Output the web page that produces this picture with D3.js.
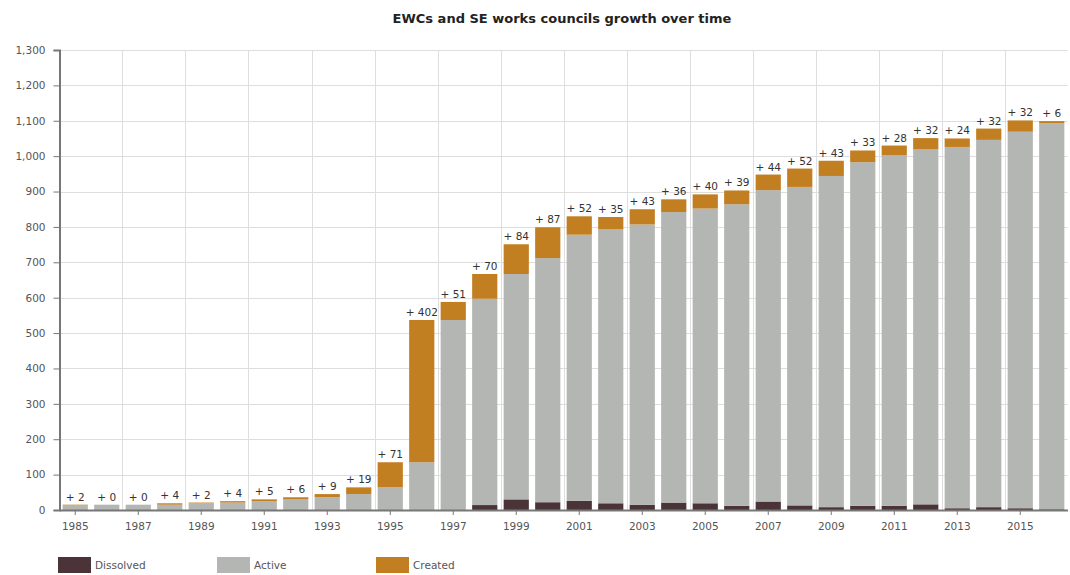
<!DOCTYPE html>
<html>
<head>
<meta charset="utf-8">
<script src="https://cdn.jsdelivr.net/npm/d3@7"></script>
<style>
  body { margin: 0; background: #fff; }
  text { font-family: "DejaVu Sans", Verdana, sans-serif; }
</style>
</head>
<body>
<div id="chart"></div>
<script>
// data
const years = d3.range(1985, 2017);
const dissolved = [0, 0, 0, 0, 0, 0, 0, 0, 0, 0, 0, 0, 0,
  14, 30, 22, 26, 19, 15, 21, 19, 12, 24, 13, 8, 12, 12, 16, 5, 8, 5, 2];
const active = [13, 15, 15, 15, 19, 21, 25, 30, 36, 45, 64, 135, 537,
  583, 637, 690, 752, 774, 792, 821, 833, 852, 880, 900, 936, 971, 990, 1003, 1021, 1038, 1064, 1091];
const created = [2, 0, 0, 4, 2, 4, 5, 6, 9, 19, 71, 402, 51,
  70, 84, 87, 52, 35, 43, 36, 40, 39, 44, 52, 43, 33, 28, 32, 24, 32, 32, 6];
const yTicks = d3.range(0, 1301, 100);

const series = [
  { key: "dissolved", name: "Dissolved", color: "#4b3438", values: dissolved },
  { key: "active", name: "Active", color: "#b4b6b3", values: active },
  { key: "created", name: "Created", color: "#c27f22", values: created }
];

const W = 1070, H = 575;
const plot = { left: 59.5, right: 1067.5, top: 50, bottom: 510 };

const rows = years.map((y, i) => ({
  year: y, dissolved: dissolved[i], active: active[i], created: created[i]
}));

const stacked = d3.stack().keys(series.map(s => s.key))(rows);

const svg = d3.select("#chart").append("svg")
  .attr("width", W)
  .attr("height", H);

const x = d3.scaleBand()
  .domain(years)
  .range([plot.left, plot.right])
  .paddingInner(0.2)
  .paddingOuter(0.1);

const y = d3.scaleLinear()
  .domain([0, 1300])
  .range([plot.bottom, plot.top]);

// title
svg.append("text")
  .attr("x", 562)
  .attr("y", 23)
  .attr("text-anchor", "middle")
  .style("font-size", "13px")
  .style("font-weight", "bold")
  .attr("fill", "#222")
  .text("EWCs and SE works councils growth over time");

// horizontal grid
svg.append("g").selectAll("line")
  .data(yTicks)
  .enter().append("line")
  .attr("x1", plot.left)
  .attr("x2", plot.right)
  .attr("y1", d => Math.round(y(d)) + 0.5)
  .attr("y2", d => Math.round(y(d)) + 0.5)
  .attr("stroke", "#dedede");

// vertical grid, between every second pair of bars
const gridYears = years.filter(d => d % 2 === 1 && d > 1985);
svg.append("g").selectAll("line")
  .data(gridYears)
  .enter().append("line")
  .attr("x1", d => Math.round(x(d) - x.step() * 0.1) + 0.5)
  .attr("x2", d => Math.round(x(d) - x.step() * 0.1) + 0.5)
  .attr("y1", plot.top)
  .attr("y2", plot.bottom)
  .attr("stroke", "#dedede");

// bars
svg.append("g").selectAll("g")
  .data(stacked)
  .enter().append("g")
  .attr("fill", (d, i) => series[i].color)
  .selectAll("rect")
  .data(d => d)
  .enter().append("rect")
  .attr("x", d => x(d.data.year))
  .attr("width", x.bandwidth())
  .attr("y", d => y(d[1]))
  .attr("height", d => y(d[0]) - y(d[1]));

// "+ n" labels
svg.append("g").selectAll("text")
  .data(rows)
  .enter().append("text")
  .attr("x", d => x(d.year) + x.bandwidth() / 2)
  .attr("y", d => y(d.dissolved + d.active + d.created) - 4)
  .attr("text-anchor", "middle")
  .style("font-size", "10.5px")
  .attr("fill", "#333")
  .text(d => "+ " + d.created);

// y axis
const yAxis = svg.append("g")
  .attr("transform", `translate(${plot.left},0)`)
  .call(d3.axisLeft(y).tickValues(yTicks).tickFormat(d3.format(",")).tickSize(6).tickPadding(8));
yAxis.select(".domain").attr("stroke", "#777").attr("stroke-width", 2);
yAxis.selectAll(".tick line").attr("stroke", "#777");
yAxis.selectAll("text").style("font-size", "10.5px").attr("fill", "#555");

// x axis
const xAxis = svg.append("g")
  .attr("transform", `translate(0,${plot.bottom})`)
  .call(d3.axisBottom(x).tickValues(years.filter(d => d % 2 === 1)).tickSize(5).tickPadding(8).tickSizeOuter(0));
xAxis.select(".domain").attr("stroke", "#777").attr("stroke-width", 2);
xAxis.selectAll(".tick line").attr("stroke", "#777");
xAxis.selectAll("text").style("font-size", "10.5px").attr("fill", "#555");

// legend
const legend = svg.append("g").selectAll("g")
  .data(series)
  .enter().append("g")
  .attr("transform", (d, i) => `translate(${58 + i * 159},557)`);
legend.append("rect")
  .attr("width", 33)
  .attr("height", 16)
  .attr("fill", d => d.color);
legend.append("text")
  .attr("x", 37)
  .attr("y", 12)
  .style("font-size", "10.5px")
  .attr("fill", "#555")
  .text(d => d.name);
</script>
</body>
</html>
